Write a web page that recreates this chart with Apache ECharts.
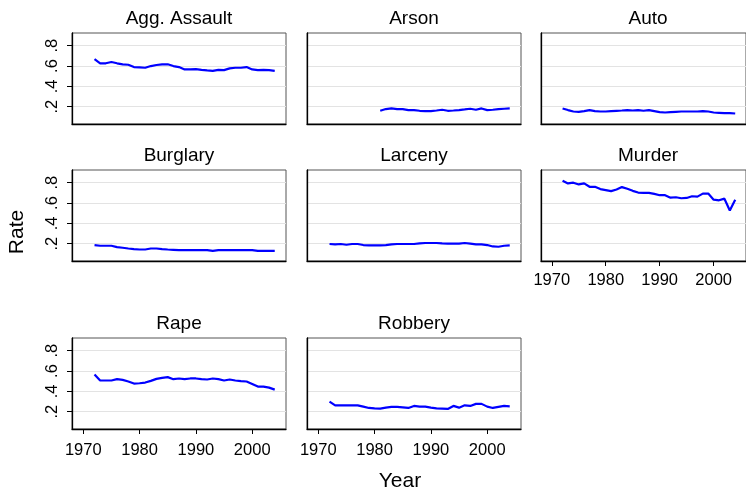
<!DOCTYPE html>
<html lang="en">

<head>
    <meta charset="UTF-8">
    <title>Crime rates by type</title>
    <script src="https://cdn.jsdelivr.net/npm/echarts@6/dist/echarts.min.js"></script>
</head>

<body style="margin:0;background:#fff">
    <div id="main" style="width: 746px;height:489px;"></div>
    <script type="text/javascript">
        const years = [1972, 1973, 1974, 1975, 1976, 1977, 1978, 1979, 1980, 1981, 1982,
            1983, 1984, 1985, 1986, 1987, 1988, 1989, 1990, 1991, 1992, 1993,
            1994, 1995, 1996, 1997, 1998, 1999, 2000, 2001, 2002, 2003, 2004];

        const panelTitles = ['Agg. Assault', 'Arson', 'Auto', 'Burglary', 'Larceny', 'Murder', 'Rape', 'Robbery'];

        const aggAssault = [0.667, 0.627, 0.627, 0.64, 0.627, 0.617, 0.613, 0.59, 0.587, 0.583, 0.6,
            0.61, 0.617, 0.617, 0.6, 0.59, 0.567, 0.567, 0.57, 0.563, 0.557, 0.553,
            0.563, 0.56, 0.577, 0.583, 0.583, 0.59, 0.567, 0.56, 0.563, 0.56, 0.553];
        const arson = [null, null, null, null, null, null, null, null, null, 0.16, 0.177,
            0.183, 0.177, 0.177, 0.167, 0.167, 0.16, 0.157, 0.157, 0.163, 0.17, 0.16,
            0.163, 0.167, 0.173, 0.18, 0.17, 0.183, 0.167, 0.17, 0.177, 0.18, 0.183];
        const auto = [0.183, 0.167, 0.153, 0.15, 0.157, 0.167, 0.157, 0.153, 0.153, 0.157, 0.16,
            0.163, 0.167, 0.163, 0.167, 0.16, 0.167, 0.157, 0.147, 0.143, 0.147, 0.15,
            0.153, 0.153, 0.153, 0.153, 0.157, 0.153, 0.143, 0.14, 0.137, 0.137, 0.133];
        const burglary = [0.187, 0.18, 0.18, 0.18, 0.167, 0.16, 0.153, 0.147, 0.143, 0.143, 0.153,
            0.153, 0.147, 0.143, 0.14, 0.137, 0.137, 0.137, 0.137, 0.137, 0.137, 0.13,
            0.137, 0.137, 0.137, 0.137, 0.137, 0.137, 0.137, 0.13, 0.13, 0.13, 0.13];
        const larceny = [0.197, 0.193, 0.197, 0.19, 0.197, 0.197, 0.187, 0.183, 0.183, 0.183, 0.187,
            0.193, 0.197, 0.197, 0.197, 0.197, 0.203, 0.207, 0.207, 0.207, 0.203, 0.2,
            0.2, 0.2, 0.207, 0.2, 0.193, 0.193, 0.187, 0.173, 0.17, 0.18, 0.183];
        const murder = [0.82, 0.793, 0.8, 0.783, 0.793, 0.76, 0.76, 0.737, 0.727, 0.717, 0.733,
            0.757, 0.74, 0.72, 0.703, 0.7, 0.7, 0.69, 0.677, 0.677, 0.653, 0.657,
            0.647, 0.65, 0.667, 0.663, 0.693, 0.693, 0.633, 0.627, 0.643, 0.527, 0.633];
        const rape = [0.567, 0.507, 0.507, 0.507, 0.52, 0.513, 0.497, 0.477, 0.48, 0.487, 0.503,
            0.523, 0.533, 0.54, 0.52, 0.527, 0.52, 0.527, 0.527, 0.52, 0.517, 0.527,
            0.52, 0.507, 0.517, 0.507, 0.5, 0.497, 0.473, 0.447, 0.447, 0.437, 0.417];
        const robbery = [0.3, 0.263, 0.263, 0.263, 0.263, 0.263, 0.25, 0.237, 0.233, 0.23, 0.24,
            0.247, 0.247, 0.243, 0.237, 0.257, 0.25, 0.25, 0.24, 0.233, 0.23, 0.227,
            0.257, 0.24, 0.263, 0.257, 0.277, 0.277, 0.25, 0.237, 0.247, 0.257, 0.253];

        const seriesValues = [aggAssault, arson, auto, burglary, larceny, murder, rape, robbery];
        const xTicks = [1970, 1980, 1990, 2000];
        const yTicks = [0.2, 0.4, 0.6, 0.8];

        const font = 'Liberation Sans, Arial, Helvetica, sans-serif';
        const colLeft = [72, 307, 541];
        const rowTop = [33, 170, 338];
        const panelW = 214, panelH = 91;

        const myChart = echarts.init(document.getElementById('main'), null, { renderer: 'canvas' });

        const grids = [], xAxes = [], yAxes = [], series = [], texts = [];

        panelTitles.forEach((name, i) => {
            const row = Math.floor(i / 3), col = i % 3;
            const showY = col === 0;
            // x labels only where no panel sits below
            const showX = i >= 5;
            grids.push({
                left: colLeft[col], top: rowTop[row], width: panelW, height: panelH,
                show: true, backgroundColor: '#fff', borderColor: '#555', borderWidth: 1
            });
            xAxes.push({
                type: 'value', gridIndex: i, min: 1968, max: 2006,
                axisLine: { show: true, onZero: false, lineStyle: { color: '#000', width: 1.3 } },
                axisTick: { show: showX, customValues: xTicks, length: 5, lineStyle: { color: '#000' } },
                axisLabel: {
                    show: showX, customValues: xTicks, margin: row === 2 ? 13 : 11,
                    fontSize: 16.5, color: '#000', fontFamily: font,
                    formatter: v => String(v)
                },
                splitLine: { show: false }
            });
            yAxes.push({
                type: 'value', gridIndex: i, min: 0.03, max: 0.925,
                axisLine: { show: true, lineStyle: { color: '#000', width: 1.3 } },
                axisTick: { show: showY, customValues: yTicks, length: 5, lineStyle: { color: '#000' } },
                axisLabel: {
                    show: showY, customValues: yTicks, rotate: 90, margin: 11, fontSize: 16.5,
                    color: '#000', fontFamily: font,
                    formatter: v => String(v).replace(/^0\./, '.')
                },
                splitLine: { show: true, lineStyle: { color: '#e3e3e3', width: 1.2 } }
            });
            series.push({
                type: 'line', xAxisIndex: i, yAxisIndex: i,
                data: years.map((y, k) => [y, seriesValues[i][k]]),
                showSymbol: false, connectNulls: false,
                lineStyle: { color: '#0000ff', width: 2.2 },
                itemStyle: { color: '#0000ff' }
            });
            texts.push({
                type: 'text', x: colLeft[col] + panelW / 2, y: rowTop[row] - 14,
                style: { text: name, fontSize: 19, fontFamily: font, fill: '#000', textAlign: 'center', textVerticalAlign: 'middle' }
            });
        });

        texts.push({
            type: 'text', x: 17, y: 232, rotation: Math.PI / 2,
            style: { text: 'Rate', fontSize: 21, fontFamily: font, fill: '#000', textAlign: 'center', textVerticalAlign: 'middle' }
        });
        texts.push({
            type: 'text', x: 400, y: 481,
            style: { text: 'Year', fontSize: 21, fontFamily: font, fill: '#000', textAlign: 'center', textVerticalAlign: 'middle' }
        });

        myChart.setOption({
            animation: false,
            backgroundColor: '#fff',
            grid: grids,
            xAxis: xAxes,
            yAxis: yAxes,
            series: series,
            graphic: texts
        });
    </script>
</body>

</html>
